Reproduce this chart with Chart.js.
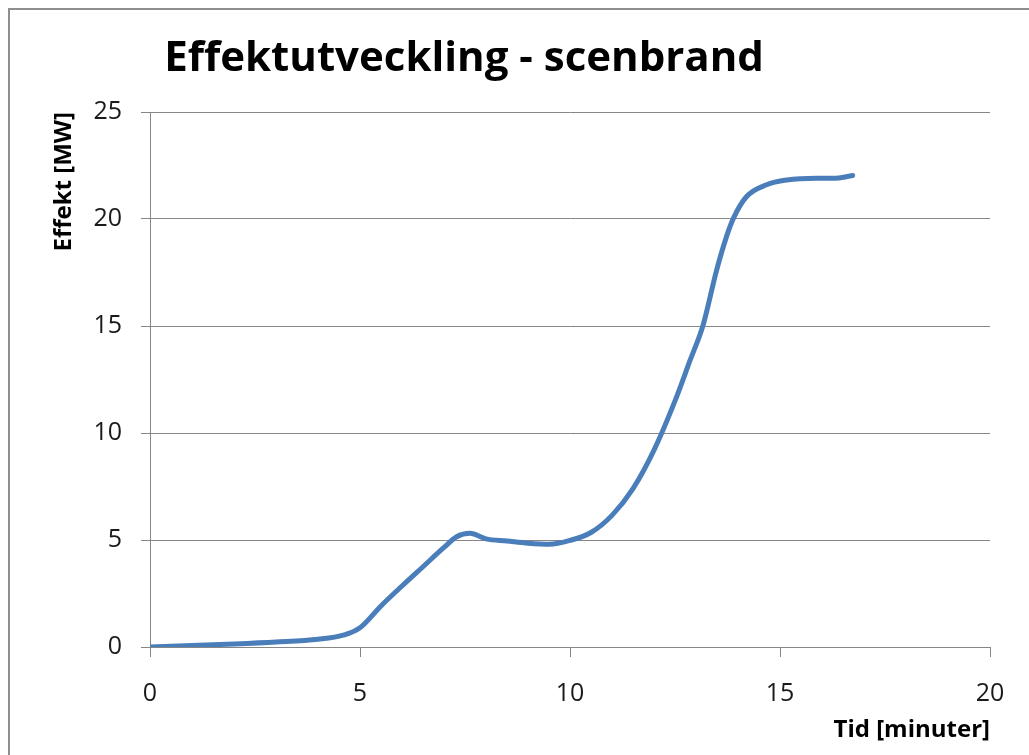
<!DOCTYPE html>
<html>
<head>
<meta charset="utf-8">
<script src="https://cdn.jsdelivr.net/npm/chart.js@4"></script>
<style>
  html, body { margin: 0; padding: 0; background: #fff; }
  #wrap { width: 1029px; height: 755px; position: relative; }
</style>
</head>
<body>
<div id="wrap"><canvas id="c" width="1029" height="755"></canvas></div>
<script>
const chartTitle = 'Effektutveckling - scenbrand';
const xAxisTitle = 'Tid [minuter]';
const yAxisTitle = 'Effekt [MW]';
const seriesName = 'Effekt';

const timeMin = [0, 1, 2, 3, 4, 4.6, 5, 5.5, 6, 6.5, 7, 7.3, 7.62, 8, 8.5, 9, 9.5, 10, 10.5, 11, 11.5, 12, 12.5, 12.86, 13.17, 13.49, 13.73, 13.89, 14.2, 14.68, 15.16, 15.87, 16.27, 16.73];
const powerMW = [0, 0.07, 0.14, 0.23, 0.36, 0.55, 0.9, 1.92, 2.85, 3.75, 4.65, 5.15, 5.31, 5.05, 4.95, 4.85, 4.8, 4.98, 5.35, 6.15, 7.4, 9.2, 11.5, 13.4, 15.05, 17.6, 19.2, 20.03, 21.04, 21.6, 21.82, 21.9, 21.9, 22.03];

const xTickValues = [0, 5, 10, 15, 20];
const yTickValues = [0, 5, 10, 15, 20, 25];

const points = timeMin.map((t, i) => ({ x: t, y: powerMW[i] }));

const frameAndTitle = {
  id: 'frameAndTitle',
  beforeDraw(chart) {
    const ctx = chart.ctx;
    ctx.save();
    ctx.fillStyle = '#ffffff';
    ctx.fillRect(0, 0, chart.width, chart.height);
    ctx.strokeStyle = '#8e8e8e';
    ctx.lineWidth = 2;
    ctx.beginPath();
    ctx.moveTo(9, chart.height + 5);
    ctx.lineTo(9, 9);
    ctx.lineTo(chart.width + 5, 9);
    ctx.stroke();
    ctx.restore();
  },
  afterDraw(chart) {
    const ctx = chart.ctx;
    ctx.save();
    ctx.fillStyle = '#000000';
    ctx.font = 'bold 42px "Open Sans"';
    ctx.textAlign = 'center';
    ctx.textBaseline = 'alphabetic';
    ctx.fillText(chartTitle, 464, 71);
    ctx.restore();
  }
};

new Chart(document.getElementById('c'), {
  type: 'scatter',
  data: {
    datasets: [{
      label: seriesName,
      data: points,
      showLine: true,
      borderColor: '#4A7EBB',
      backgroundColor: '#4A7EBB',
      borderWidth: 5,
      pointRadius: 0,
      pointHoverRadius: 0,
      cubicInterpolationMode: 'monotone',
      borderCapStyle: 'round',
      borderJoinStyle: 'round'
    }]
  },
  options: {
    responsive: false,
    animation: false,
    devicePixelRatio: 1,
    layout: { padding: { left: 0, top: 112, right: 39, bottom: 0 } },
    plugins: {
      legend: { display: false },
      title: { display: false },
      tooltip: { enabled: false }
    },
    scales: {
      x: {
        type: 'linear',
        min: 0,
        max: 20,
        afterBuildTicks(scale) { scale.ticks = xTickValues.map(v => ({ value: v })); },
        afterFit(scale) { scale.height = 108; },
        grid: {
          drawOnChartArea: false,
          drawTicks: true,
          tickLength: 10,
          color: '#868686',
          lineWidth: 1
        },
        border: { display: true, color: '#868686', width: 1 },
        ticks: {
          color: '#1a1a1a',
          font: { family: '"Open Sans"', size: 25 },
          padding: 22,
          maxRotation: 0
        },
        title: {
          display: true,
          text: xAxisTitle,
          align: 'end',
          color: '#000000',
          font: { family: '"Open Sans"', size: 24, weight: 'bold' },
          padding: { top: 0, bottom: 10 }
        }
      },
      y: {
        type: 'linear',
        min: 0,
        max: 25,
        afterBuildTicks(scale) { scale.ticks = yTickValues.map(v => ({ value: v })); },
        afterFit(scale) { scale.width = 150; },
        grid: {
          drawOnChartArea: true,
          drawTicks: true,
          tickLength: 9,
          color: '#868686',
          lineWidth: 1
        },
        border: { display: true, color: '#868686', width: 1 },
        ticks: {
          color: '#1a1a1a',
          font: { family: '"Open Sans"', size: 25 },
          padding: 19
        },
        title: {
          display: true,
          text: yAxisTitle,
          align: 'end',
          color: '#000000',
          font: { family: '"Open Sans"', size: 24, weight: 'bold' },
          padding: { top: 50, bottom: 0 }
        }
      }
    }
  },
  plugins: [frameAndTitle]
});
</script>
</body>
</html>
